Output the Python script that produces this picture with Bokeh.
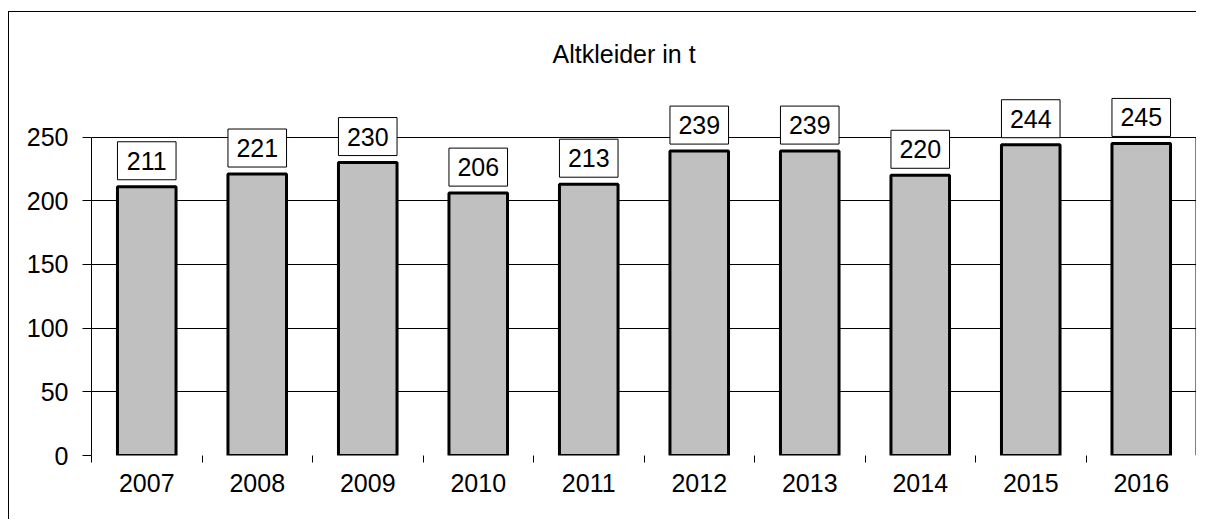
from bokeh.plotting import figure
from bokeh.models import ColumnDataSource, Range1d, FixedTicker, Title
from bokeh.core.properties import value
from bokeh.embed import file_html
from bokeh.resources import INLINE
import numpy as np

years = ["2007", "2008", "2009", "2010", "2011", "2012", "2013", "2014", "2015", "2016"]
values = [211, 221, 230, 206, 213, 239, 239, 220, 244, 245]
y_ticks = [0, 50, 100, 150, 200, 250]
title_text = "Altkleider in t"

FONT = "Liberation Sans"
FS = "25px"

Y_TOP = 285
FRAME_H = 363
px_per_unit = FRAME_H / Y_TOP
label_center_offset = 26 / px_per_unit  # box centre 26 px above the bar top

xpos = np.arange(len(years)) + 0.5
source = ColumnDataSource(dict(
    x=xpos, top=values,
    ly=[v + label_center_offset for v in values],
    label=[str(v) for v in values]))

p = figure(width=1188, height=508, output_backend="svg", toolbar_location=None,
           x_range=Range1d(0, len(years)), y_range=Range1d(0, Y_TOP),
           min_border_left=82, min_border_right=1, min_border_top=80, min_border_bottom=65,
           styles={"border-top": "1px solid black", "border-left": "1px solid black",
                   "margin-top": "11px", "margin-left": "8px"})
p.outline_line_color = None
p.background_fill_color = "white"
p.border_fill_color = "white"

t = Title(text=title_text, align="left", vertical_align="top", text_font=FONT, text_font_size=FS,
          text_font_style="normal", text_color="black", offset=461, standoff=46)
p.add_layout(t, "above")

# right-hand frame line, from 0 to the top tick, at the right end of the x range
p.segment(x0=[len(years)], y0=[y_ticks[0]], x1=[len(years)], y1=[y_ticks[-1]],
          line_color="black", line_width=2)

p.vbar(x="x", top="top", bottom=0, width=0.53, source=source,
       fill_color="#c0c0c0", line_color="black", line_width=3)

p.rect(x="x", y="ly", width=0.53, height=38, height_units="screen", source=source,
       fill_color="white", line_color="black", line_width=1)
p.text(x="x", y="ly", text="label", source=source, text_align="center", text_baseline="middle",
       text_font=value(FONT), text_font_size=FS, text_color="black")

# y axis
p.yaxis.ticker = FixedTicker(ticks=y_ticks)
p.yaxis.bounds = (0, 250)
p.yaxis.axis_line_color = "black"
p.yaxis.major_tick_line_color = "black"
p.yaxis.major_tick_out = 9
p.yaxis.major_tick_in = 0
p.yaxis.minor_tick_line_color = None
p.yaxis.major_label_standoff = 14
p.yaxis.major_label_text_font = FONT
p.yaxis.major_label_text_font_size = FS
p.yaxis.major_label_text_color = "black"

# x axis
p.xaxis.ticker = FixedTicker(ticks=list(xpos), minor_ticks=list(range(len(years) + 1)))
p.xaxis.major_label_overrides = {float(x): y for x, y in zip(xpos, years)}
p.xaxis.axis_line_color = None
p.xaxis.major_tick_line_color = None
p.xaxis.minor_tick_line_color = "black"
p.xaxis.minor_tick_out = 7
p.xaxis.minor_tick_in = 0
p.xaxis.major_label_standoff = 11
p.xaxis.major_label_text_font = FONT
p.xaxis.major_label_text_font_size = FS
p.xaxis.major_label_text_color = "black"

p.xgrid.visible = False
p.ygrid.ticker = FixedTicker(ticks=y_ticks[1:])
p.ygrid.grid_line_color = "black"
p.ygrid.grid_line_alpha = 1.0

open("out.html", "w").write(file_html(p, INLINE))
